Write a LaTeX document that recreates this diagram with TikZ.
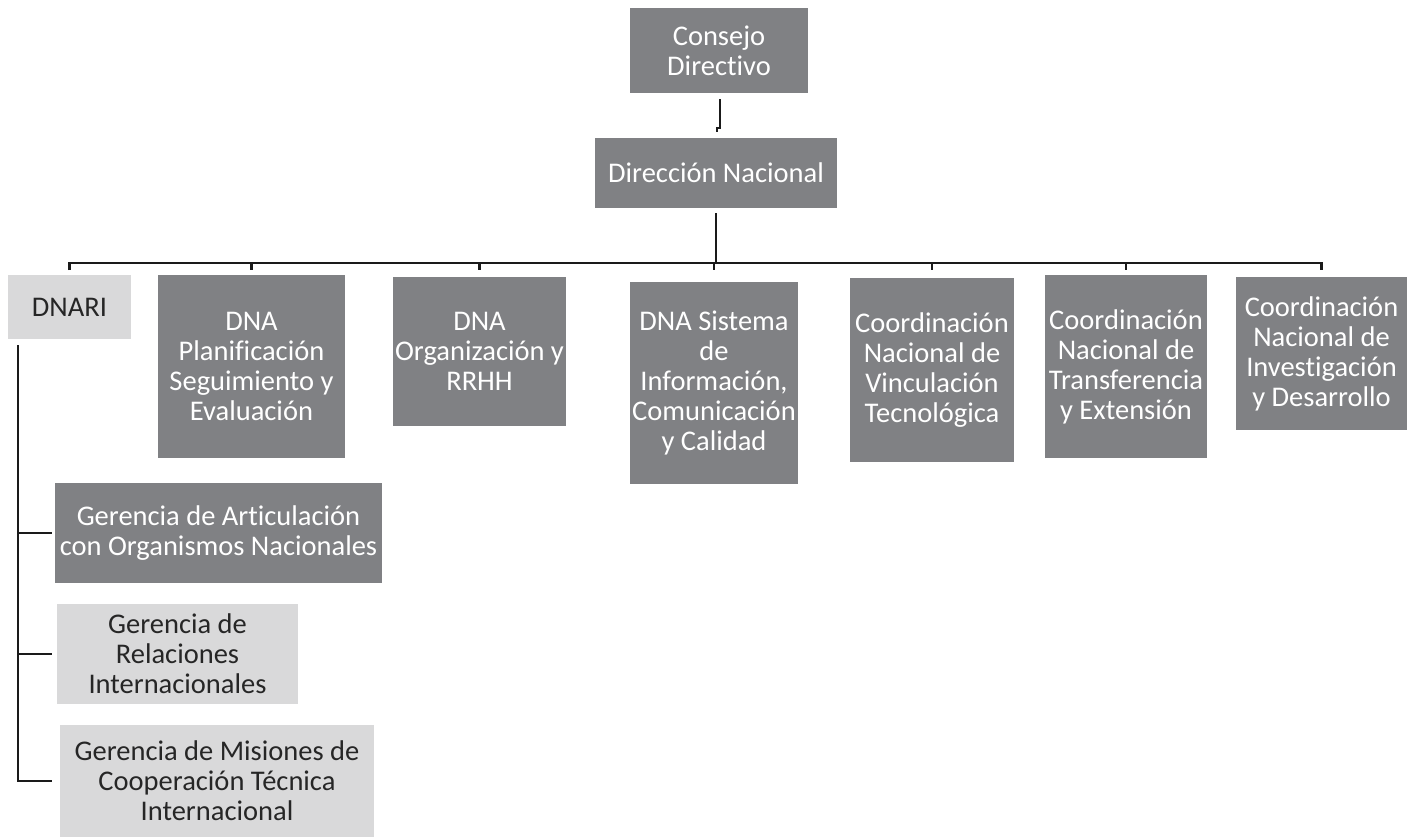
\documentclass[tikz,border=0pt]{standalone}
\usepackage{fontspec}
\setmainfont{Carlito}[RawFeature=-liga]
\usetikzlibrary{calc}
\definecolor{boxdark}{HTML}{808184}
\definecolor{boxlight}{HTML}{D9D9DA}
\definecolor{inkdark}{HTML}{262626}
\definecolor{wire}{HTML}{1A1A1A}
\begin{document}
\begin{tikzpicture}[x=1pt,y=-1pt,
  unit/.style={rectangle, inner sep=0pt, align=center,
    font=\fontsize{28.5}{30}\selectfont},
  darkunit/.style={unit, fill=boxdark, text=white},
  lightunit/.style={unit, fill=boxlight, text=inkdark},
  conn/.style={draw=wire, line width=2.2pt},
  bus/.style={draw=wire, line width=2.6pt}]
\useasboundingbox (0,0) rectangle (1415,837);

% top of the hierarchy
\node[darkunit, minimum width=178pt, minimum height=85pt] (cd) at (719,50.5) {Consejo\\Directivo};
\node[darkunit, minimum width=242pt, minimum height=70pt] (dn) at (716,173) {Dirección Nacional};

% directorates hanging from the bus
\node[lightunit, minimum width=123pt, minimum height=64pt] (dnari) at (69.5,307) {DNARI};
\node[darkunit, minimum width=187pt, minimum height=183pt] (plan) at (251.5,366.5) {DNA\\Planificación\\Seguimiento y\\Evaluación};
\node[darkunit, minimum width=173pt, minimum height=149pt] (org) at (479.5,351.5) {DNA\\Organización y\\RRHH};
\node[darkunit, minimum width=168pt, minimum height=202pt] (sis) at (714,383) {DNA Sistema\\de\\Información,\\Comunicación\\y Calidad};
\node[darkunit, minimum width=164pt, minimum height=184pt] (vin) at (932,370) {Coordinación\\Nacional de\\Vinculación\\Tecnológica};
\node[darkunit, minimum width=162pt, minimum height=183pt] (tra) at (1126,366.5) {Coordinación\\Nacional de\\Transferencia\\y Extensión};
\node[darkunit, minimum width=171pt, minimum height=153pt] (inv) at (1321.5,353.5) {Coordinación\\Nacional de\\Investigación\\y Desarrollo};

% units under DNARI
\node[darkunit, minimum width=327pt, minimum height=100pt] (g1) at (218.5,533) {Gerencia de Articulación\\con Organismos Nacionales};
\node[lightunit, minimum width=241pt, minimum height=100pt] (g2) at (177.5,654) {Gerencia de\\Relaciones\\Internacionales};
\node[lightunit, minimum width=314pt, minimum height=112pt] (g3) at (217,781) {Gerencia de Misiones de\\Cooperación Técnica\\Internacional};

% vertical links in the main line
\draw[conn] ($(cd.south)+(1,6)$) -- ($(cd.south)+(1,35)$) -- ++(-3,0) -- ++(0,4);
\coordinate (busy) at (0,263);
\coordinate (ticky) at (0,270);
\draw[conn, shorten <=5pt] (dn.south) -- (dn.south |- busy);

% horizontal bus with its end drops
\draw[bus] (dnari.north |- ticky) -- (dnari.north |- busy) -- (inv.north |- busy) -- (inv.north |- ticky);
\foreach \c in {plan,org,sis,vin,tra}
  \draw[conn] (\c.north |- busy) -- (\c.north |- ticky);

% DNARI spine and branches
\coordinate (spine) at (18,345);
\coordinate (tip) at (52,0);
\draw[conn] (spine) |- (tip |- g3.west);
\draw[conn] (spine |- g1.west) -- (tip |- g1.west);
\draw[conn] (spine |- g2.west) -- (tip |- g2.west);
\end{tikzpicture}
\end{document}
